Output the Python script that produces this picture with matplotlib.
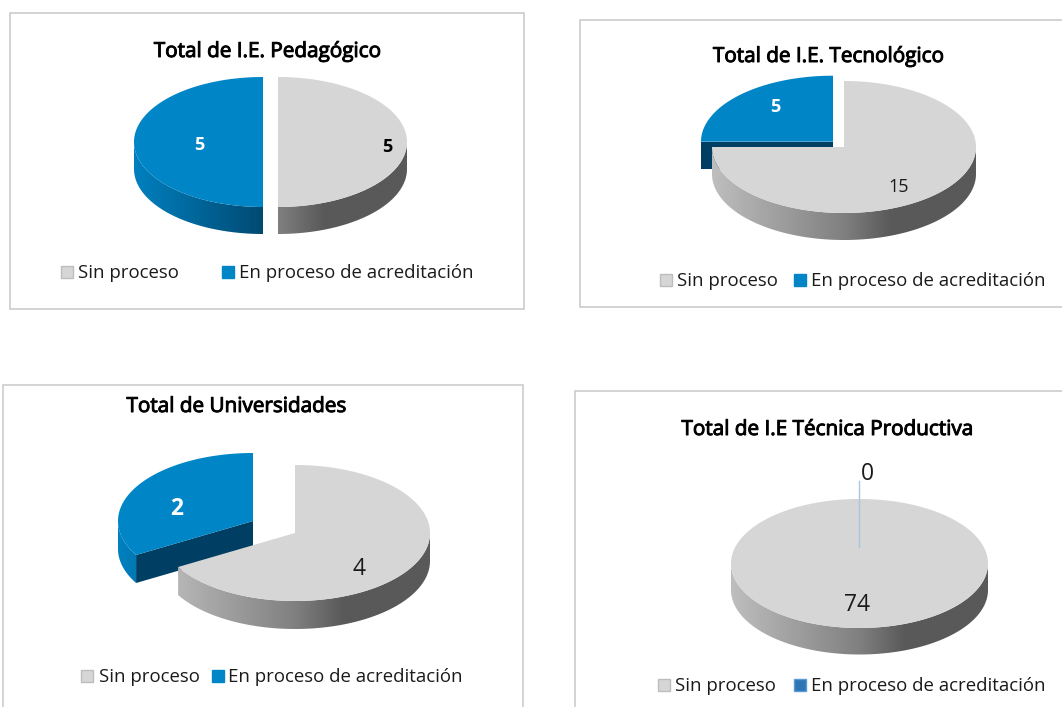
import numpy as np
import matplotlib
matplotlib.use("Agg")
import matplotlib.pyplot as plt
import matplotlib.patheffects as pe
from matplotlib.colors import LinearSegmentedColormap
from matplotlib.patches import Polygon, Rectangle

# ---------- data ----------
categories = ["Sin proceso", "En proceso de acreditación"]
titles = ["Total de I.E. Pedagógico", "Total de I.E. Tecnológico",
          "Total de Universidades", "Total de I.E Técnica Productiva"]
sin_proceso = [5, 15, 4, 74]
en_proceso = [5, 5, 2, 0]

# ---------- layout (pixels) ----------
W, H = 1062, 707
GREY, BLUE, CUT = "#d6d6d6", "#0085c6", "#003f63"
frames = [(10, 13, 524, 309), (580, 20, 1075, 307), (3, 385, 523, 720), (575, 391, 1075, 720)]
title_pos = [(267, 51.5), (828, 56.5), (236, 406.5), (827, 429.5)]
# grey centre, blue centre, rx, ry, depth
pies = [((278, 142), (263, 142), 129, 65, 27),
        ((844, 147), (833, 141.7), 132, 66, 27),
        ((295, 533), (253, 521), 135, 68, 28),
        ((859.5, 563.5), (859.5, 563.5), 128.5, 64.5, 26.5)]
grey_labels = [(387, 147.5, "black", "bold", 13), (899, 187.5, "#1a1a1a", "normal", 13),
               (359, 569, "#1a1a1a", "normal", 16.5), (857, 605, "#1a1a1a", "normal", 16.5)]
blue_labels = [(199, 145.5, "white", "bold", 13), (775, 107.5, "white", "bold", 13),
               (177, 509, "white", "bold", 16.5), (867, 474, "#1a1a1a", "normal", 16.5)]
legends = [(61, 78, 222, 239, 273), (660, 677, 794, 811, 281),
           (81, 99, 212, 228, 677), (658, 675, 794, 811, 686)]
legend_blue = [BLUE, BLUE, BLUE, "#2e75b6"]

grey_wall = LinearSegmentedColormap.from_list(
    "gw", [(0, "#bebebe"), (0.5, "#808080"), (0.68, "#595959"), (1, "#595959")])
blue_wall = LinearSegmentedColormap.from_list(
    "bw", [(0, "#0080bf"), (0.5, "#004a72"), (1, "#004a72")])

fig = plt.figure(figsize=(W / 100, H / 100), dpi=100, facecolor="white")
ax = fig.add_axes([0, 0, 1, 1])
ax.set_xlim(0, W)
ax.set_ylim(H, 0)
ax.axis("off")


def pt(c, rx, ry, deg):
    t = np.radians(deg)
    return np.column_stack([c[0] + rx * np.sin(t), c[1] - ry * np.cos(t)])


def slice3d(c, rx, ry, d, a0, a1, top, cmap):
    if a1 - a0 <= 0:
        return
    p0, p1 = pt(c, rx, ry, a0)[0], pt(c, rx, ry, a1)[0]
    # cut faces: only those that look towards the viewer
    faces = []
    if np.sin(np.radians(a0)) < -1e-6:
        faces.append(p0)
    if np.sin(np.radians(a1)) > 1e-6:
        faces.append(p1)
    for p in faces:
        q = [c, p, (p[0], p[1] + d), (c[0], c[1] + d)]
        ax.add_patch(Polygon(q, closed=True, fc=CUT, ec="none", zorder=2))
    # outer wall
    lo, hi = max(a0, 90), min(a1, 270)
    if hi > lo:
        arc = pt(c, rx, ry, np.linspace(lo, hi, 200))
        low = arc + [0, d]
        poly = Polygon(np.vstack([arc, low[::-1]]), closed=True, fc="none", ec="none",
                       transform=ax.transData)
        ax.add_patch(poly)
        g = np.linspace(0, 1, 512)[None, :]
        im = ax.imshow(g, cmap=cmap, vmin=0, vmax=1, aspect="auto", zorder=2.2,
                       extent=(c[0] - rx, c[0] + rx, c[1] + ry + d + 1, c[1] - ry),
                       interpolation="bilinear")
        im.set_clip_path(poly)
    # top
    arc = pt(c, rx, ry, np.linspace(a0, a1, 300))
    ax.add_patch(Polygon(np.vstack([[c], arc]), closed=True, fc=top, ec="none", zorder=2.5))


for i in range(4):
    x0, y0, x1, y1 = frames[i]
    ax.add_patch(Rectangle((x0, y0), x1 - x0, y1 - y0, fc="white", ec="#c8c8c8", lw=1.1, zorder=1))
    ax.text(*title_pos[i], titles[i], ha="center", va="center", fontsize=14.9,
            family="Open Sans", color="black", zorder=5,
            path_effects=[pe.withStroke(linewidth=0.7, foreground="black")])

    total = sin_proceso[i] + en_proceso[i]
    ang = 360 * sin_proceso[i] / total
    gc, bc, rx, ry, d = pies[i]
    slice3d(bc, rx, ry, d, ang, 360, BLUE, blue_wall)
    slice3d(gc, rx, ry, d, 0, ang, GREY, grey_wall)
    ax.set_xlim(0, W)
    ax.set_ylim(H, 0)

    gx, gy, gcol, gw, gs = grey_labels[i]
    ax.text(gx, gy, str(sin_proceso[i]), ha="center", va="center", color=gcol, weight=gw,
            fontsize=gs, family="Open Sans", zorder=6)
    bx, by, bcol, bw, bs = blue_labels[i]
    ax.text(bx, by, str(en_proceso[i]), ha="center", va="center", color=bcol, weight=bw,
            fontsize=bs, family="Open Sans", zorder=6)

    sx, stx, bsx, btx, ly = legends[i]
    ax.add_patch(Rectangle((sx, ly - 7), 12, 12, fc=GREY, ec="#bdbdbd", lw=1, zorder=5))
    ax.text(stx, ly, categories[0], ha="left", va="center", fontsize=13.4, family="Open Sans",
            color="#1a1a1a", zorder=5)
    ax.add_patch(Rectangle((bsx, ly - 7), 12, 12, fc=legend_blue[i],
                           ec=legend_blue[i] if i < 3 else "#5b9bd5", lw=1, zorder=5))
    ax.text(btx, ly, categories[1], ha="left", va="center", fontsize=13.4, family="Open Sans",
            color="#1a1a1a", zorder=5)

# leader line of the zero slice
ax.plot([859, 859], [481, 547], color="#a9c6e0", lw=1, zorder=6)

fig.savefig("out.png", dpi=100)
